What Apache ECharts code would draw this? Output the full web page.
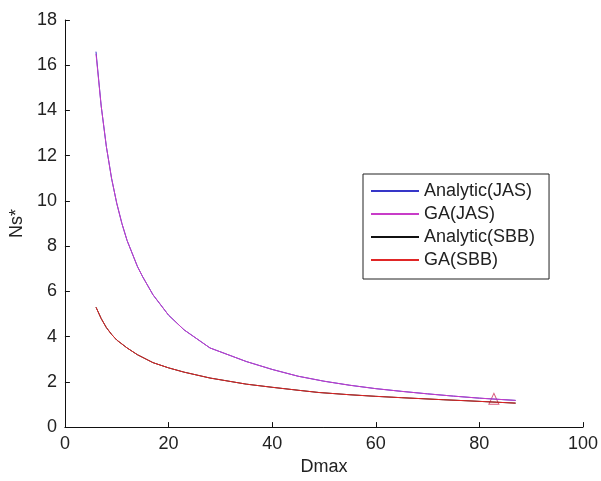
<!DOCTYPE html>
<html>
<head>
<meta charset="utf-8">
<script src="https://cdn.jsdelivr.net/npm/echarts@6/dist/echarts.min.js"></script>
<style>html,body{margin:0;padding:0;background:#fff;}#chart{width:601px;height:481px;}</style>
</head>
<body>
<div id="chart"></div>
<script>
// Dmax values (x) and Ns* values for each curve
const jasX = [6, 7, 8, 9, 10, 11, 12, 14, 15, 17, 20, 23, 28, 35, 40, 45, 50, 55, 60, 65, 70, 75, 80, 87];
const analyticJAS = [16.6, 14.2, 12.4, 11.0, 9.9, 9.0, 8.25, 7.1, 6.65, 5.85, 4.95, 4.3, 3.5, 2.9, 2.55, 2.25, 2.03, 1.85, 1.7, 1.58, 1.47, 1.37, 1.28, 1.18];
const gaJAS =       [16.5, 14.2, 12.4, 11.0, 9.9, 9.0, 8.25, 7.1, 6.65, 5.85, 4.95, 4.3, 3.5, 2.9, 2.55, 2.25, 2.03, 1.85, 1.7, 1.58, 1.47, 1.37, 1.28, 1.18];
const sbbX = [6, 7, 8, 9, 10, 12, 14, 17, 20, 23, 28, 35, 40, 45, 49, 55, 60, 65, 73, 78, 87];
const analyticSBB = [5.3, 4.8, 4.4, 4.1, 3.85, 3.5, 3.2, 2.85, 2.62, 2.43, 2.17, 1.9, 1.76, 1.63, 1.53, 1.43, 1.36, 1.3, 1.21, 1.16, 1.06];
const gaSBB =       [5.3, 4.8, 4.4, 4.1, 3.85, 3.5, 3.2, 2.85, 2.62, 2.43, 2.17, 1.9, 1.76, 1.63, 1.53, 1.43, 1.36, 1.3, 1.21, 1.16, 1.06];
const markerPoint = [[82.8, 1.25]];
const seriesNames = ['Analytic(JAS)', 'GA(JAS)', 'Analytic(SBB)', 'GA(SBB)'];
const xTicks = { min: 0, max: 100, interval: 20 };
const yTicks = { min: 0, max: 18, interval: 2 };

function pairs(xs, ys) { return xs.map((x, i) => [x, ys[i]]); }

const font = 'Liberation Sans, Arial, sans-serif';
const chart = echarts.init(document.getElementById('chart'), null, { renderer: 'canvas' });
const lineSeries = (name, xs, ys, color) => ({
  name, type: 'line', data: pairs(xs, ys), symbol: 'none', smooth: false,
  lineStyle: { color, width: 1 }, itemStyle: { color }, animation: false
});
chart.setOption({
  animation: false,
  grid: { left: 63, right: 15, top: 20, bottom: 48, containLabel: false },
  legend: {
    data: seriesNames, orient: 'vertical', left: 363, top: 174,
    icon: 'rect',
    borderColor: '#222', borderWidth: 1, padding: [8, 14, 10, 8],
    itemWidth: 48, itemHeight: 2, itemGap: 5,
    textStyle: { fontFamily: font, fontSize: 18, color: '#222', lineHeight: 18, padding: [0, 0, 0, 0] },
    backgroundColor: '#fff'
  },
  xAxis: {
    type: 'value', min: xTicks.min, max: xTicks.max, interval: xTicks.interval,
    name: 'Dmax', nameLocation: 'middle', nameGap: 25,
    nameTextStyle: { fontFamily: font, fontSize: 18, color: '#222' },
    axisLine: { show: true, lineStyle: { color: '#111', width: 1 } },
    axisTick: { show: true, inside: true, length: 5, lineStyle: { color: '#111' } },
    axisLabel: { fontFamily: font, fontSize: 18, color: '#222', margin: 8 },
    splitLine: { show: false }
  },
  yAxis: {
    type: 'value', min: yTicks.min, max: yTicks.max, interval: yTicks.interval,
    name: 'Ns*', nameLocation: 'middle', nameGap: 31, nameRotate: 90,
    nameTextStyle: { fontFamily: font, fontSize: 18, color: '#222' },
    axisLine: { show: true, lineStyle: { color: '#111', width: 1 } },
    axisTick: { show: true, inside: true, length: 5, lineStyle: { color: '#111' } },
    axisLabel: { fontFamily: font, fontSize: 18, color: '#222', margin: 8 },
    splitLine: { show: false }
  },
  series: [
    lineSeries(seriesNames[0], jasX, analyticJAS, '#3636c8'),
    lineSeries(seriesNames[1], jasX, gaJAS, '#c83cc8'),
    lineSeries(seriesNames[2], sbbX, analyticSBB, '#111111'),
    lineSeries(seriesNames[3], sbbX, gaSBB, '#e02626'),
    {
      name: 'marker', type: 'scatter', data: markerPoint, symbol: 'triangle', symbolSize: [10, 11],
      itemStyle: { color: 'rgba(255,255,255,0)', borderColor: '#d0305a', borderWidth: 1 },
      animation: false
    }
  ]
});
</script>
</body>
</html>
